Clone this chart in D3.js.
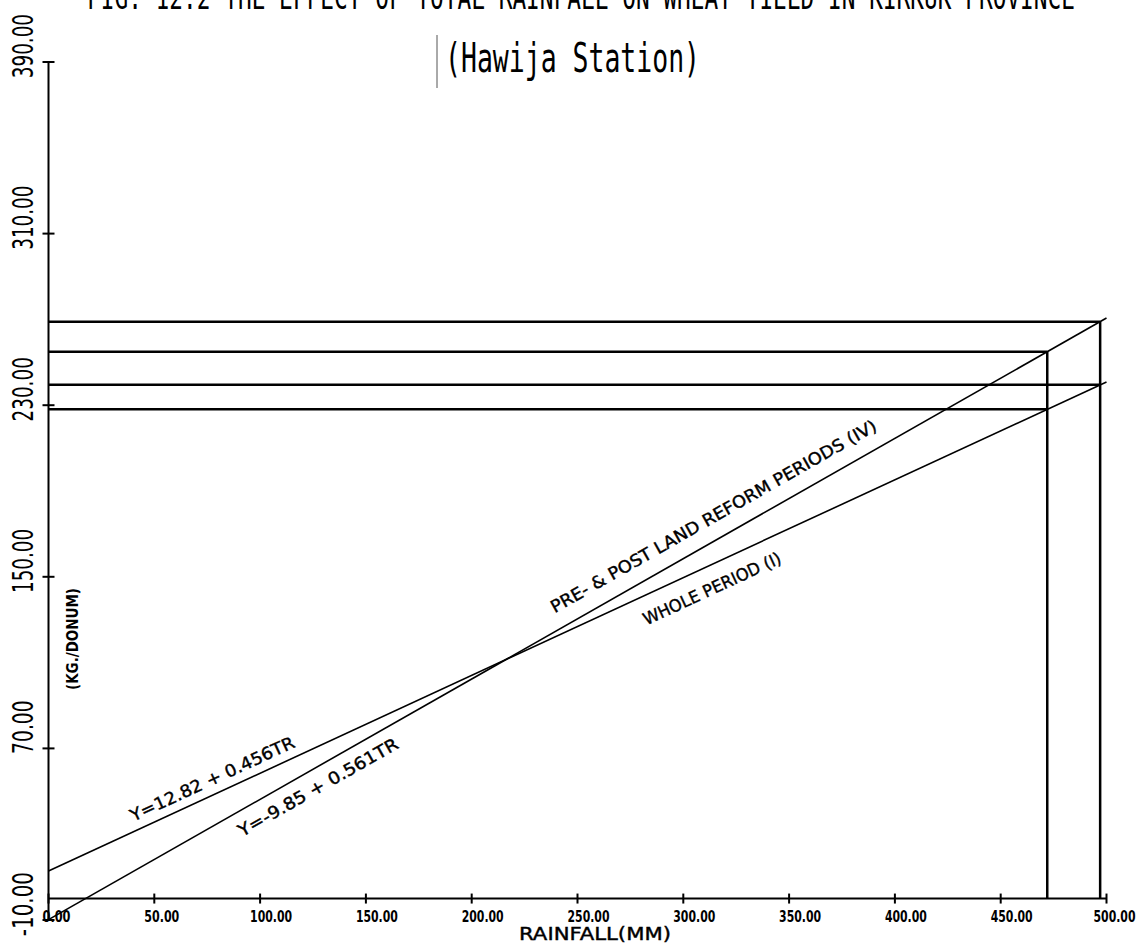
<!DOCTYPE html>
<html>
<head>
<meta charset="utf-8">
<script src="https://cdn.jsdelivr.net/npm/d3@7"></script>
<style>
  html, body { margin: 0; padding: 0; background: #fff; }
  svg { display: block; }
</style>
</head>
<body>
<div id="chart"></div>
<script>
// ---------------- data ----------------
const titleText = "FIG. 12.2 THE EFFECT OF TOTAL RAINFALL ON WHEAT YIELD IN KIRKUK PROVINCE";
const subtitleText = "(Hawija Station)";
const xAxisTitle = "RAINFALL(MM)";
const yAxisTitle = "(KG./DONUM)";

const xTicks = [0, 50, 100, 150, 200, 250, 300, 350, 400, 450, 500];
const xTickLabels = ["0.00", "50.00", "100.00", "150.00", "200.00", "250.00", "300.00", "350.00", "400.00", "450.00", "500.00"];
const yTicks = [-10, 70, 150, 230, 310, 390];
const yTickLabels = ["-10.00", "70.00", "150.00", "230.00", "310.00", "390.00"];

// regression lines (rainfall endpoints and fitted yields)
const lineRainfall = [0, 500];
const wholeYield = [12.82, 240.82];      // WHOLE PERIOD (I): Y=12.82 + 0.456TR
const prePostYield = [-9.85, 270.65];    // PRE- & POST LAND REFORM PERIODS (IV): Y=-9.85 + 0.561TR
const lineNames = ["WHOLE PERIOD (I)", "PRE- & POST LAND REFORM PERIODS (IV)"];
const lineEquations = ["Y=12.82 + 0.456TR", "Y=-9.85 + 0.561TR"];

// projection (reading) lines
const projRainfall = [472, 497];
const projWhole = [228.1, 239.5];
const projPrePost = [254.9, 268.9];

// ---------------- drawing ----------------
const W = 1144, H = 944;
const svg = d3.select("#chart").append("svg").attr("width", W).attr("height", H);

const x = d3.scaleLinear().domain([0, 500]).range([48.5, 1106.5]);
const y = d3.scaleLinear().domain([-10, 390]).range([920, 62]);

const ink = "#000";
const sans = "'DejaVu Sans', 'Liberation Sans', sans-serif";
const mono = "'DejaVu Sans Mono', 'Liberation Mono', monospace";

// title & subtitle
svg.append("text").attr("x", 87).attr("y", 8.5)
  .attr("font-family", mono).attr("font-size", 34).attr("fill", ink)
  .attr("textLength", 988).attr("lengthAdjust", "spacingAndGlyphs")
  .text(titleText);
svg.append("line").attr("x1", 437).attr("x2", 437).attr("y1", 35).attr("y2", 88)
  .attr("stroke", "#555").attr("stroke-width", 1);
svg.append("text").attr("x", 445).attr("y", 72)
  .attr("font-family", mono).attr("font-size", 40).attr("fill", ink)
  .attr("textLength", 255).attr("lengthAdjust", "spacingAndGlyphs")
  .text(subtitleText);

// axes
const g = svg.append("g");
g.append("line").attr("x1", x(0)).attr("x2", x(0)).attr("y1", y(-10)).attr("y2", y(390))
  .attr("stroke", ink).attr("stroke-width", 2);
g.append("line").attr("x1", x(0)).attr("x2", x(500)).attr("y1", y(0)).attr("y2", y(0))
  .attr("stroke", ink).attr("stroke-width", 2);

// x ticks
g.selectAll(".xt").data(xTicks).join("line")
  .attr("x1", d => x(d)).attr("x2", d => x(d))
  .attr("y1", y(0) - 5).attr("y2", y(0) + 5)
  .attr("stroke", ink).attr("stroke-width", 2);
g.selectAll(".xl").data(xTicks).join("text")
  .attr("x", d => x(d) - (d === 0 ? 6 : d === 500 ? 13 : 10)).attr("y", 922)
  .attr("font-family", sans).attr("font-weight", "bold").attr("font-size", 15).attr("fill", ink)
  .attr("textLength", (d, i) => xTickLabels[i].length * 7).attr("lengthAdjust", "spacingAndGlyphs")
  .text((d, i) => xTickLabels[i]);

// y ticks
g.selectAll(".yt").data(yTicks).join("line")
  .attr("x1", x(0) - 6).attr("x2", x(0) + 6)
  .attr("y1", d => y(d)).attr("y2", d => y(d))
  .attr("stroke", ink).attr("stroke-width", 2);
g.selectAll(".yl").data(yTicks).join("text")
  .attr("transform", d => `translate(33,${y(d) - 48}) rotate(-90)`)
  .attr("text-anchor", "end")
  .attr("font-family", sans).attr("font-size", 29).attr("fill", ink)
  .attr("textLength", (d, i) => yTickLabels[i].length * 10.7).attr("lengthAdjust", "spacingAndGlyphs")
  .text((d, i) => yTickLabels[i]);

// axis titles
svg.append("text").attr("transform", "translate(78,639) rotate(-90)")
  .attr("text-anchor", "middle")
  .attr("font-family", sans).attr("font-weight", "bold").attr("font-size", 15).attr("fill", ink)
  .attr("textLength", 102).attr("lengthAdjust", "spacingAndGlyphs")
  .text(yAxisTitle);
svg.append("text").attr("x", 519).attr("y", 940)
  .attr("font-family", sans).attr("font-size", 17).attr("fill", ink)
  .attr("stroke", ink).attr("stroke-width", 0.4)
  .attr("textLength", 152).attr("lengthAdjust", "spacingAndGlyphs")
  .text(xAxisTitle);

// projection lines
projRainfall.forEach((r, i) => {
  [projWhole[i], projPrePost[i]].forEach(v => {
    g.append("line").attr("x1", x(0)).attr("x2", x(r)).attr("y1", y(v)).attr("y2", y(v))
      .attr("stroke", ink).attr("stroke-width", 2.5);
  });
  g.append("line").attr("x1", x(r)).attr("x2", x(r)).attr("y1", y(0)).attr("y2", y(projPrePost[i]))
    .attr("stroke", ink).attr("stroke-width", 2.5);
});

// regression lines
const lineGen = d3.line().x(d => x(d[0])).y(d => y(d[1]));
const series = [
  { pts: lineRainfall.map((r, i) => [r, wholeYield[i]]), name: lineNames[0], eq: lineEquations[0],
    eqPos: { t: 42, dy: -9, len: 179 }, namePos: { t: 277, dy: 28, len: 150 } },
  { pts: lineRainfall.map((r, i) => [r, prePostYield[i]]), name: lineNames[1], eq: lineEquations[1],
    eqPos: { t: 86, dy: 24, len: 181 }, namePos: { t: 243, dy: -16, len: 372 } }
];
series.forEach(s => {
  g.append("path").attr("d", lineGen(s.pts)).attr("fill", "none")
    .attr("stroke", ink).attr("stroke-width", 1.6);
  const [p1, p2] = s.pts;
  const ang = Math.atan2(y(p2[1]) - y(p1[1]), x(p2[0]) - x(p1[0])) * 180 / Math.PI;
  const at = t => {
    const f = (t - p1[0]) / (p2[0] - p1[0]);
    return [x(p1[0]) + f * (x(p2[0]) - x(p1[0])), y(p1[1]) + f * (y(p2[1]) - y(p1[1]))];
  };
  [[s.eq, s.eqPos], [s.name, s.namePos]].forEach(([txt, pos]) => {
    const [px, py] = at(pos.t);
    g.append("text")
      .attr("transform", `translate(${px},${py}) rotate(${ang})`)
      .attr("y", pos.dy)
      .attr("font-family", sans).attr("font-size", 17).attr("fill", ink)
      .attr("stroke", ink).attr("stroke-width", 0.4)
      .attr("textLength", pos.len).attr("lengthAdjust", "spacingAndGlyphs")
      .text(txt);
  });
});
</script>
</body>
</html>
